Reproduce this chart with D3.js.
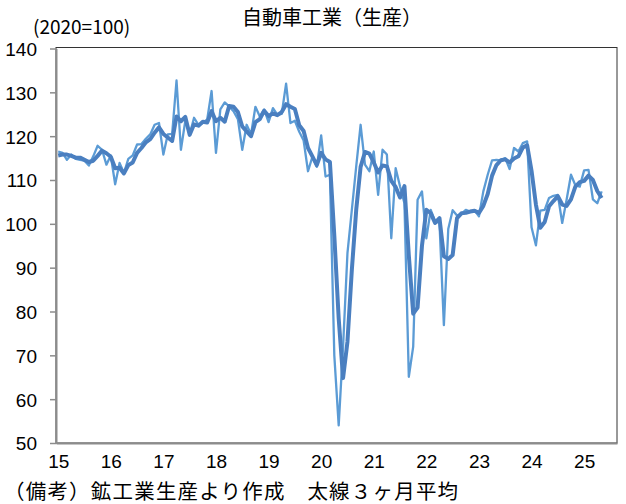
<!DOCTYPE html>
<html>
<head>
<meta charset="utf-8">
<script src="https://cdn.jsdelivr.net/npm/d3@7"></script>
<style>
body { margin: 0; background: #fff; }
text { font-family: "Noto Sans CJK JP", "Noto Sans", sans-serif; fill: #000; }
</style>
</head>
<body>
<svg id="chart" width="626" height="504"></svg>
<script>
// 自動車工業（生産） 2020=100, monthly from Jan 2015 to May 2025

var yearLabels = ['15', '16', '17', '18', '19', '20', '21', '22', '23', '24', '25'];
var yTicks = [50, 60, 70, 80, 90, 100, 110, 120, 130, 140];

// monthly index (thin line)
var monthly = [
    116.5, 116.2, 114.6, 115.8, 114.8, 114.6, 114.4, 113.3, 115.4, 117.8, 116.9, 113.5, // 2015
    115.6, 109.0, 113.9, 111.6, 114.8, 115.6, 118.1, 118.2, 119.4, 120.4, 122.6, 123.0, // 2016
    115.8, 120.4, 120.5, 132.7, 116.9, 123.5, 120.4, 124.2, 122.6, 123.0, 123.8, 130.3, // 2017
    116.2, 126.1, 127.7, 126.8, 125.7, 123.9, 116.9, 122.6, 120.4, 126.7, 124.5, 126.1, // 2018
    123.2, 126.4, 124.9, 125.1, 132.0, 123.0, 123.5, 121.0, 119.0, 112.0, 115.3, 113.0, // 2019
    120.2, 110.8, 111.2, 70.0, 54.0, 72.0, 93.3, 103.2, 113.1, 122.6, 113.5, 112.0,     // 2020
    116.5, 106.6, 116.9, 115.8, 96.7, 112.7, 108.5, 104.7, 65.1, 72.0, 105.5, 107.4,    // 2021
    96.7, 103.2, 100.6, 100.2, 76.9, 98.8, 103.1, 101.9, 102.3, 103.2, 102.8, 103.1,    // 2022
    101.7, 107.4, 111.2, 114.5, 114.6, 114.5, 115.0, 112.5, 117.3, 116.5, 118.4, 118.8, // 2023
    99.2, 95.1, 103.0, 103.2, 105.9, 106.4, 106.6, 100.2, 105.5, 111.2, 108.8, 108.5,   // 2024
    112.2, 112.3, 105.6, 104.7, 107.4                                                  // 2025
];

// 3 month average (thick line)
var avg3 = [
    115.6, 115.8, 115.8, 115.5, 115.1, 115.1, 114.6, 114.1, 114.4, 115.5, 116.7, 116.1,
    115.3, 112.7, 112.8, 111.5, 113.4, 114.0, 116.2, 117.3, 118.6, 119.3, 120.8, 122.0,
    120.5, 119.7, 118.9, 124.5, 123.4, 124.4, 120.3, 122.7, 122.4, 123.3, 123.1, 125.7,
    123.4, 124.2, 123.3, 126.9, 126.7, 125.5, 122.2, 121.1, 120.0, 123.2, 123.9, 125.8,
    124.6, 125.2, 124.8, 125.5, 127.3, 126.7, 126.2, 122.5, 121.2, 117.3, 115.4, 113.4,
    116.2, 114.7, 114.1, 97.3, 78.4, 64.8, 73.1, 89.5, 103.2, 113.0, 116.4, 116.0,
    114.0, 111.7, 113.3, 113.1, 109.8, 108.4, 106.0, 108.6, 92.8, 79.5, 80.9, 95.0,
    103.2, 102.4, 100.2, 101.3, 92.6, 92.0, 92.9, 101.3, 102.4, 102.5, 102.8, 103.0,
    102.5, 104.1, 106.8, 111.0, 113.4, 114.5, 114.7, 114.0, 114.9, 115.4, 117.4, 117.9,
    112.1, 104.4, 99.1, 100.4, 104.0, 105.2, 106.3, 104.4, 104.1, 105.6, 108.5, 109.5,
    109.8, 111.0, 110.0, 107.5, 105.9
];

var svg = d3.select('#chart');

var plotLeft = 56, plotRight = 617, plotTop = 48.5, plotBottom = 443;

// 128 month slots on the category axis (Jan 2015 .. Aug 2025)
var x = d3.scaleLinear().domain([-0.5, 127.5]).range([plotLeft, plotRight]);
var y = d3.scaleLinear().domain([50, 140]).range([plotBottom, plotTop]);

// plot frame
svg.append('rect')
    .attr('x', plotLeft)
    .attr('y', plotTop - 1)
    .attr('width', plotRight - plotLeft)
    .attr('height', plotBottom - plotTop + 1)
    .attr('fill', 'none')
    .attr('stroke', '#333')
    .attr('stroke-width', 1);

// y axis
var yAxis = svg.append('g')
    .attr('transform', 'translate(' + plotLeft + ',0)')
    .call(d3.axisLeft(y).tickValues(yTicks).tickSize(6).tickSizeOuter(0).tickPadding(13));
yAxis.select('.domain').attr('stroke', '#8c8c8c').attr('stroke-width', 2);
yAxis.selectAll('.tick line').attr('stroke', '#8c8c8c').attr('stroke-width', 1.5);
yAxis.selectAll('.tick text')
    .attr('font-size', 19)
    .attr('dy', '0.36em')
    .style('font-family', '"Liberation Sans", sans-serif');

// x axis
var xTickValues = yearLabels.map(function (d, i) { return i * 12; });
var xAxis = svg.append('g')
    .attr('transform', 'translate(0,' + plotBottom + ')')
    .call(d3.axisBottom(x).tickValues(xTickValues)
        .tickFormat(function (d, i) { return yearLabels[i]; })
        .tickSize(0).tickSizeOuter(0).tickPadding(12));
xAxis.select('.domain').attr('stroke', '#8c8c8c').attr('stroke-width', 2);
xAxis.selectAll('.tick text')
    .attr('font-size', 19)
    .style('font-family', '"Liberation Sans", sans-serif');

// lines
var line = d3.line()
    .x(function (d, i) { return x(i); })
    .y(function (d) { return y(d); });

svg.append('path')
    .datum(monthly)
    .attr('d', line)
    .attr('fill', 'none')
    .attr('stroke', '#5b9bd5')
    .attr('stroke-width', 2.3)
    .attr('stroke-linejoin', 'round');

svg.append('path')
    .datum(avg3)
    .attr('d', line)
    .attr('fill', 'none')
    .attr('stroke', '#4a7fc0')
    .attr('stroke-width', 4)
    .attr('stroke-linejoin', 'round');

// texts
svg.append('text')
    .attr('x', 332)
    .attr('y', 25)
    .attr('text-anchor', 'middle')
    .attr('font-size', 20)
    .text('自動車工業（生産）');

svg.append('text')
    .attr('x', 33)
    .attr('y', 34)
    .attr('font-size', 19)
    .text('(2020=100)');

svg.append('text')
    .attr('x', 4)
    .attr('y', 499)
    .attr('font-size', 20.5)
    .attr('letter-spacing', 1.2)
    .text('（備考）鉱工業生産より作成　太線３ヶ月平均');
</script>
</body>
</html>
